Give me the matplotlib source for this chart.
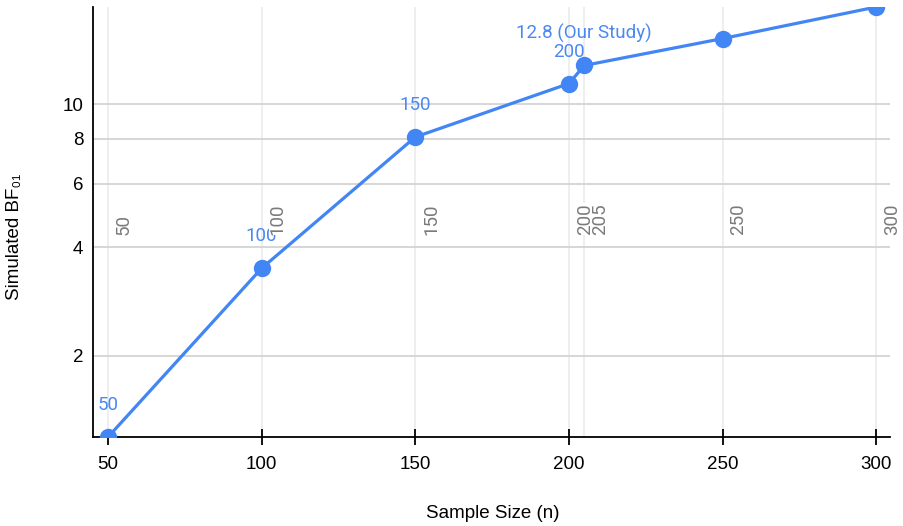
import matplotlib
matplotlib.use("Agg")
import matplotlib.pyplot as plt
import matplotlib.transforms as mtransforms
from matplotlib.ticker import FixedLocator, NullLocator, FixedFormatter

# ---- data ----
sample_sizes = [50, 100, 150, 200, 205, 250, 300]
bf01_values = [1.19, 3.5, 8.1, 11.4, 12.8, 15.2, 18.6]
point_labels = {50: "50", 100: "100", 150: "150", 200: "200", 205: "12.8 (Our Study)"}
x_ticks = [50, 100, 150, 200, 250, 300]
y_ticks = [2, 4, 6, 8, 10]
grid_x = [50, 100, 150, 200, 205, 250, 300]
x_label = "Sample Size (n)"
y_label = "Simulated BF₀₁"

blue = "#4285f4"
label_blue = "#4a88f2"
FS = 13.5

fig = plt.figure(figsize=(9.04, 5.26), dpi=100)
ax = fig.add_axes([93/904, 1-437/526, (890-93)/904, (437-7)/526])

ax.set_yscale("log")
ax.set_xlim(45.1, 304.5)
ax.set_ylim(min(bf01_values), max(bf01_values))

# grid
ax.yaxis.set_major_locator(FixedLocator(y_ticks))
ax.yaxis.set_major_formatter(FixedFormatter([str(v) for v in y_ticks]))
ax.yaxis.set_minor_locator(NullLocator())
ax.yaxis.grid(True, color="#d0d0d0", linewidth=1.2, zorder=0)
shift = ax.get_xaxis_transform() + mtransforms.ScaledTranslation(7/100, 0, fig.dpi_scale_trans)
for gx in grid_x:
    ax.axvline(gx, color="#ebebeb", linewidth=1.2, zorder=0)
    ax.text(gx, 0.47, str(gx), transform=shift,
            rotation=90, ha="left", va="bottom", color="#7a7a7a",
            fontsize=FS, family=["Roboto", "DejaVu Sans"], zorder=6,
            bbox=dict(facecolor="white", edgecolor="none", pad=0),
            clip_on=False)

ax.xaxis.set_major_locator(FixedLocator(x_ticks))
ax.xaxis.set_minor_locator(NullLocator())

# line
ax.plot(sample_sizes, bf01_values, color=blue, linewidth=2.3, marker="o",
        markersize=12.5, markeredgewidth=0, zorder=4)

for x, y in zip(sample_sizes, bf01_values):
    if x in point_labels:
        ax.annotate(point_labels[x], (x, y), xytext=(0, 23), textcoords="offset points",
                    ha="center", va="center", color=label_blue, fontsize=FS,
                    family=["Roboto", "DejaVu Sans"], zorder=5)

for s in ["top", "right"]:
    ax.spines[s].set_visible(False)
for s in ["left", "bottom"]:
    ax.spines[s].set_color("black")
    ax.spines[s].set_linewidth(1.3)

ax.tick_params(axis="x", direction="inout", length=12, width=1.3, color="black",
               labelsize=FS, pad=8)
ax.tick_params(axis="y", length=0, labelsize=FS, pad=7)
for lab in ax.get_xticklabels() + ax.get_yticklabels():
    lab.set_family(["Liberation Sans", "DejaVu Sans"])

fig.text(493/904, 1-513/526, x_label, ha="center", va="center", fontsize=FS,
         family=["Liberation Sans", "DejaVu Sans"])
fig.text(15/904, 1-237/526, y_label, ha="center", va="center", rotation=90, fontsize=FS,
         family=["Liberation Sans", "DejaVu Sans"])

fig.savefig("out.png", dpi=100)
